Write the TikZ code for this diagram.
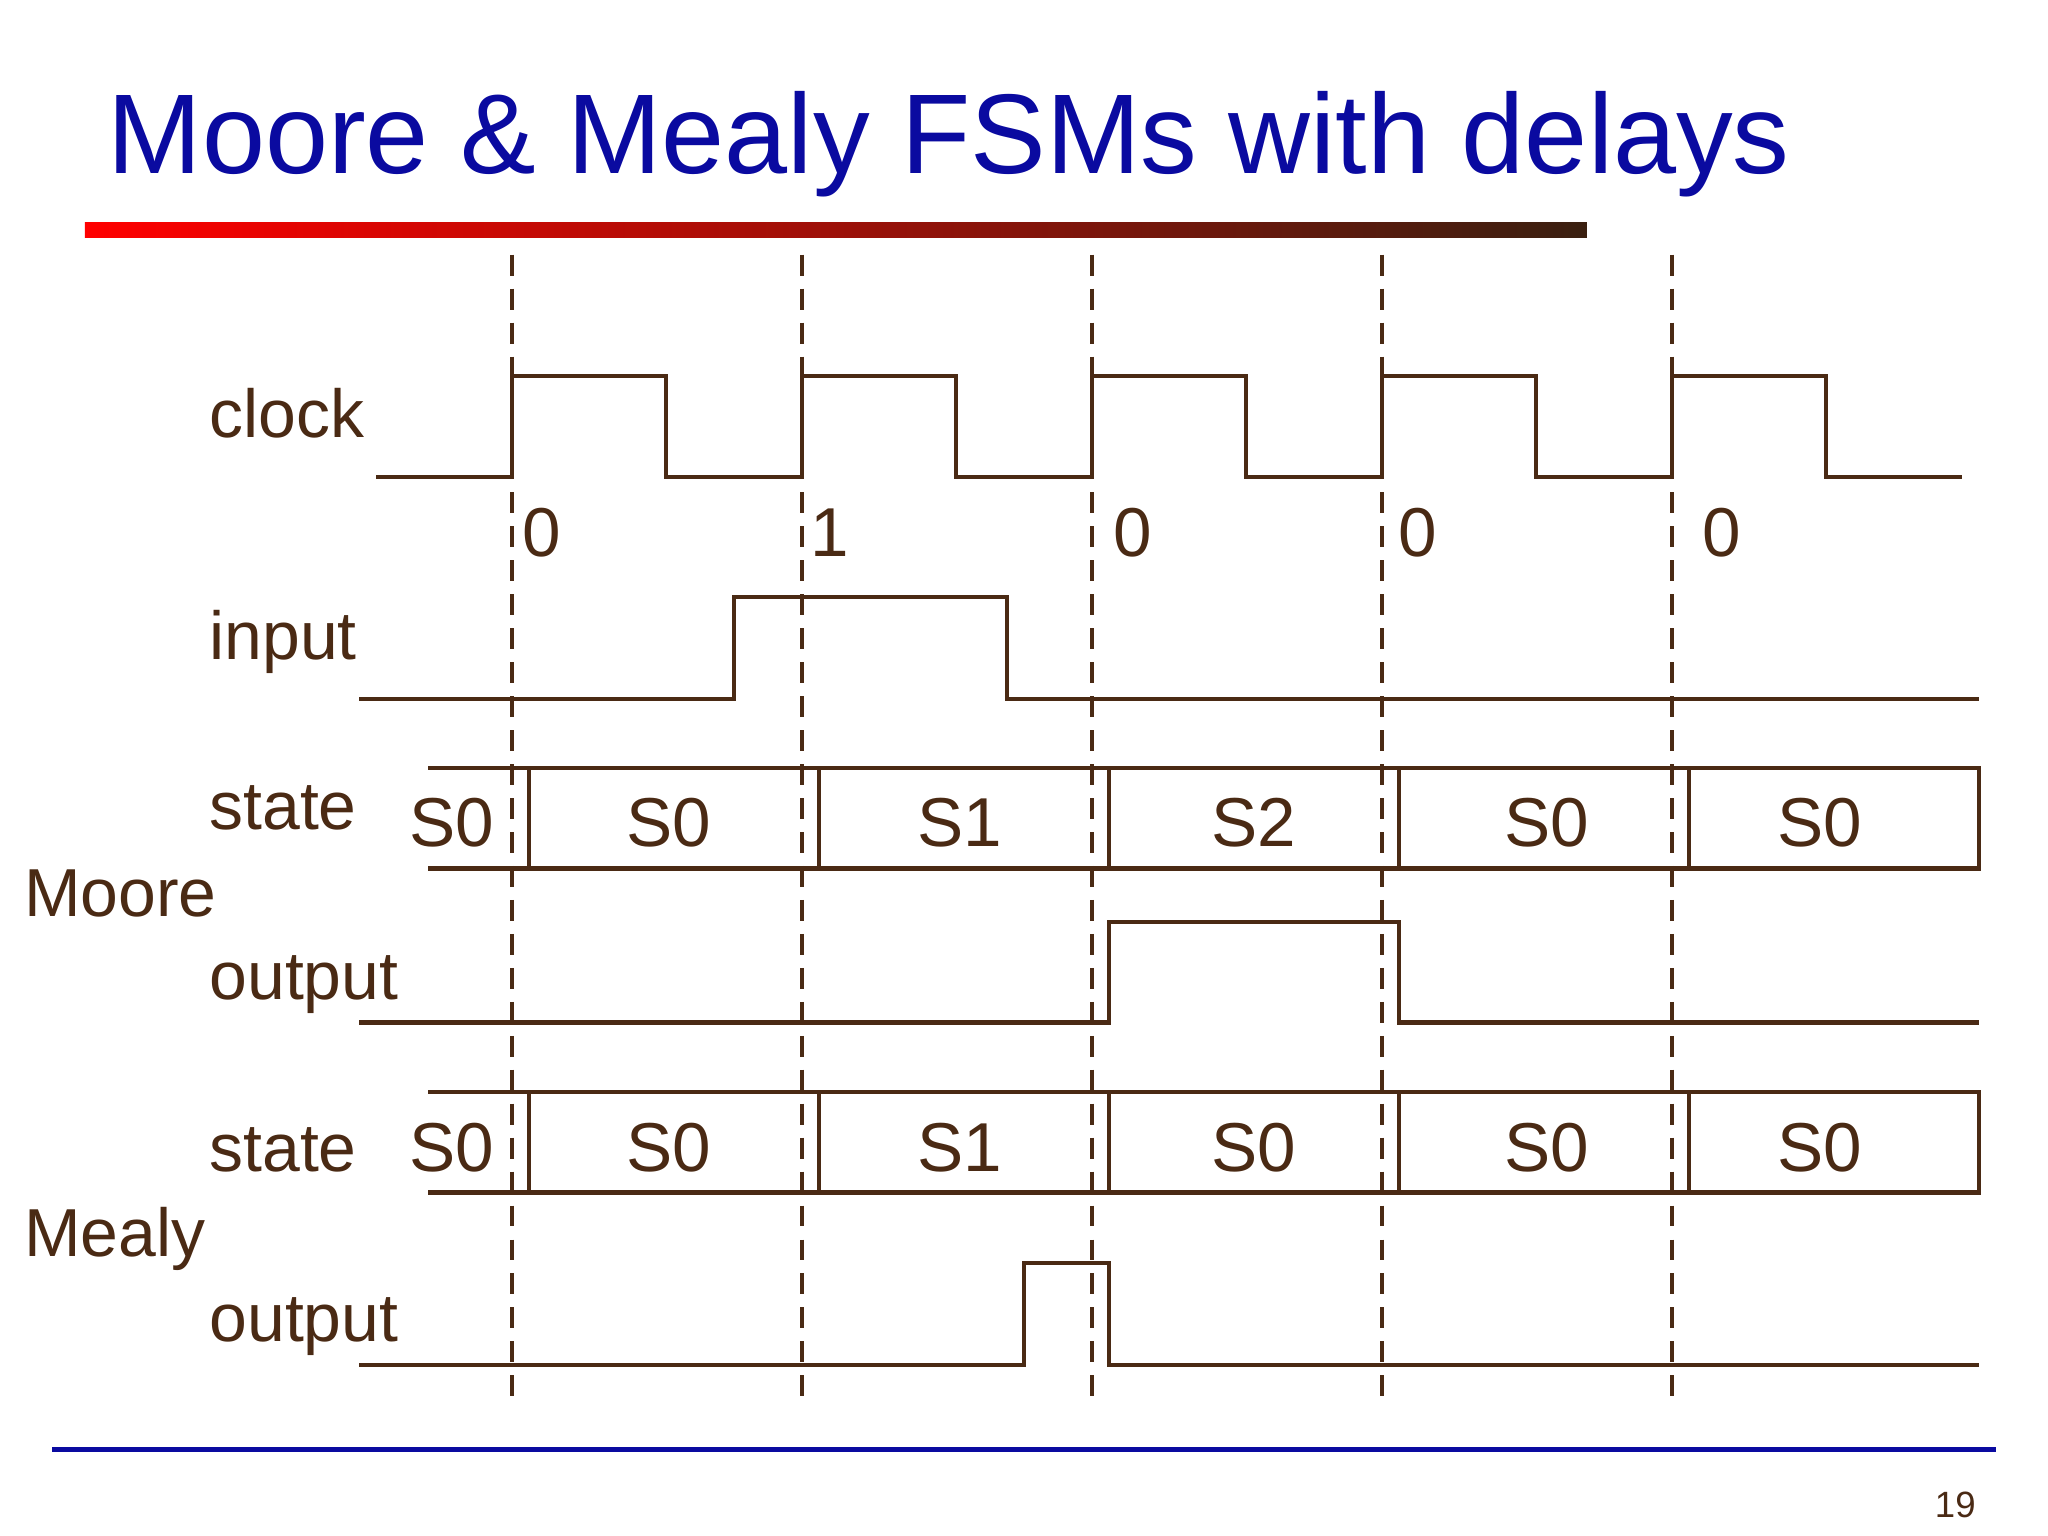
\documentclass[tikz,border=0pt]{standalone}
\usepackage{fontspec}
\setmainfont{Liberation Sans}
\definecolor{sig}{HTML}{4A2A14}
\definecolor{ttl}{HTML}{0A0AA0}
\definecolor{endb}{HTML}{3A2010}
\begin{document}
\begin{tikzpicture}[x=0.5pt,y=-0.5pt,
  wave/.style={draw=sig,line width=1.7pt},
  grid/.style={draw=sig,line width=1.5pt,dash pattern=on 8pt off 5pt},
  lbl/.style={anchor=base west,text=sig,font=\fontsize{26}{29}\selectfont,inner sep=0},
  val/.style={text=sig,font=\fontsize{26.5}{29}\selectfont,inner sep=0}]
\useasboundingbox (0,0) rectangle (1568,1176);
\node[anchor=base west,inner sep=0,text=ttl,font=\fontsize{43.4}{48}\selectfont] (title) at (82,133) {Moore \& Mealy FSMs with delays};
\shade[left color=red,right color=endb] (65,170) rectangle (1215,182);
\draw[ttl,line width=2pt] (40,1110) -- (1528,1110);
\node[anchor=base east,inner sep=0,text=sig,font=\fontsize{14}{16}\selectfont] (pg) at (1513,1162) {19};
% dashed grid
\foreach \x/\n in {392/a,614/b,836/c,1058/d,1280/e}{
  \coordinate (t\n) at (\x,195); \coordinate (b\n) at (\x,1072);
  \draw[grid] (t\n) -- (b\n);}
% labels
\node[lbl] (l1) at (160,335) {clock};
\node[lbl] (l2) at (160,505) {input};
\node[lbl] (l3) at (160,635) {state};
\node[lbl] (l4) at (18,702) {Moore};
\node[lbl] (l5) at (160,765) {output};
\node[lbl] (l6) at (160,897) {state};
\node[lbl] (l7) at (18,962) {Mealy};
\node[lbl] (l8) at (160,1027) {output};
% clock
\draw[wave] (288,365) -- (392,365) -- (392,288) -- (510,288) -- (510,365) -- (614,365) -- (614,288) -- (732,288) -- (732,365) -- (836,365) -- (836,288) -- (954,288) -- (954,365) -- (1058,365) -- (1058,288) -- (1176,288) -- (1176,365) -- (1280,365) -- (1280,288) -- (1398,288) -- (1398,365) -- (1502,365);
\foreach \x/\v/\n in {400/0/a,620/1/b,852/0/c,1070/0/d,1303/0/e}
  \node[val,anchor=west] (n\n) at (\x,408) {\v};
% input
\draw[wave] (275,535) -- (562,535) -- (562,457) -- (771,457) -- (771,535) -- (1515,535);
% state buses
\foreach \yt/\yb/\ym/\s in {588/665/630/{S0,S0,S1,S2,S0,S0},836/913/879/{S0,S0,S1,S0,S0,S0}}{
  \draw[wave] (328,\yt) -- (1515,\yt) -- (1515,\yb) -- (328,\yb);
  \foreach \x in {405,627,849,1071,1293} \draw[wave] (\x,\yt) -- (\x,\yb);
  \foreach \lab [count=\i] in \s {
    \pgfmathsetmacro\xx{{346,512,735,960,1184,1393}[\i-1]}
    \node[val] at (\xx,\ym) {\lab};}
}
% Moore output
\draw[wave] (275,783) -- (849,783) -- (849,706) -- (1071,706) -- (1071,783) -- (1515,783);
% Mealy output
\draw[wave] (275,1045) -- (784,1045) -- (784,967) -- (849,967) -- (849,1045) -- (1515,1045);
\end{tikzpicture}
\end{document}
